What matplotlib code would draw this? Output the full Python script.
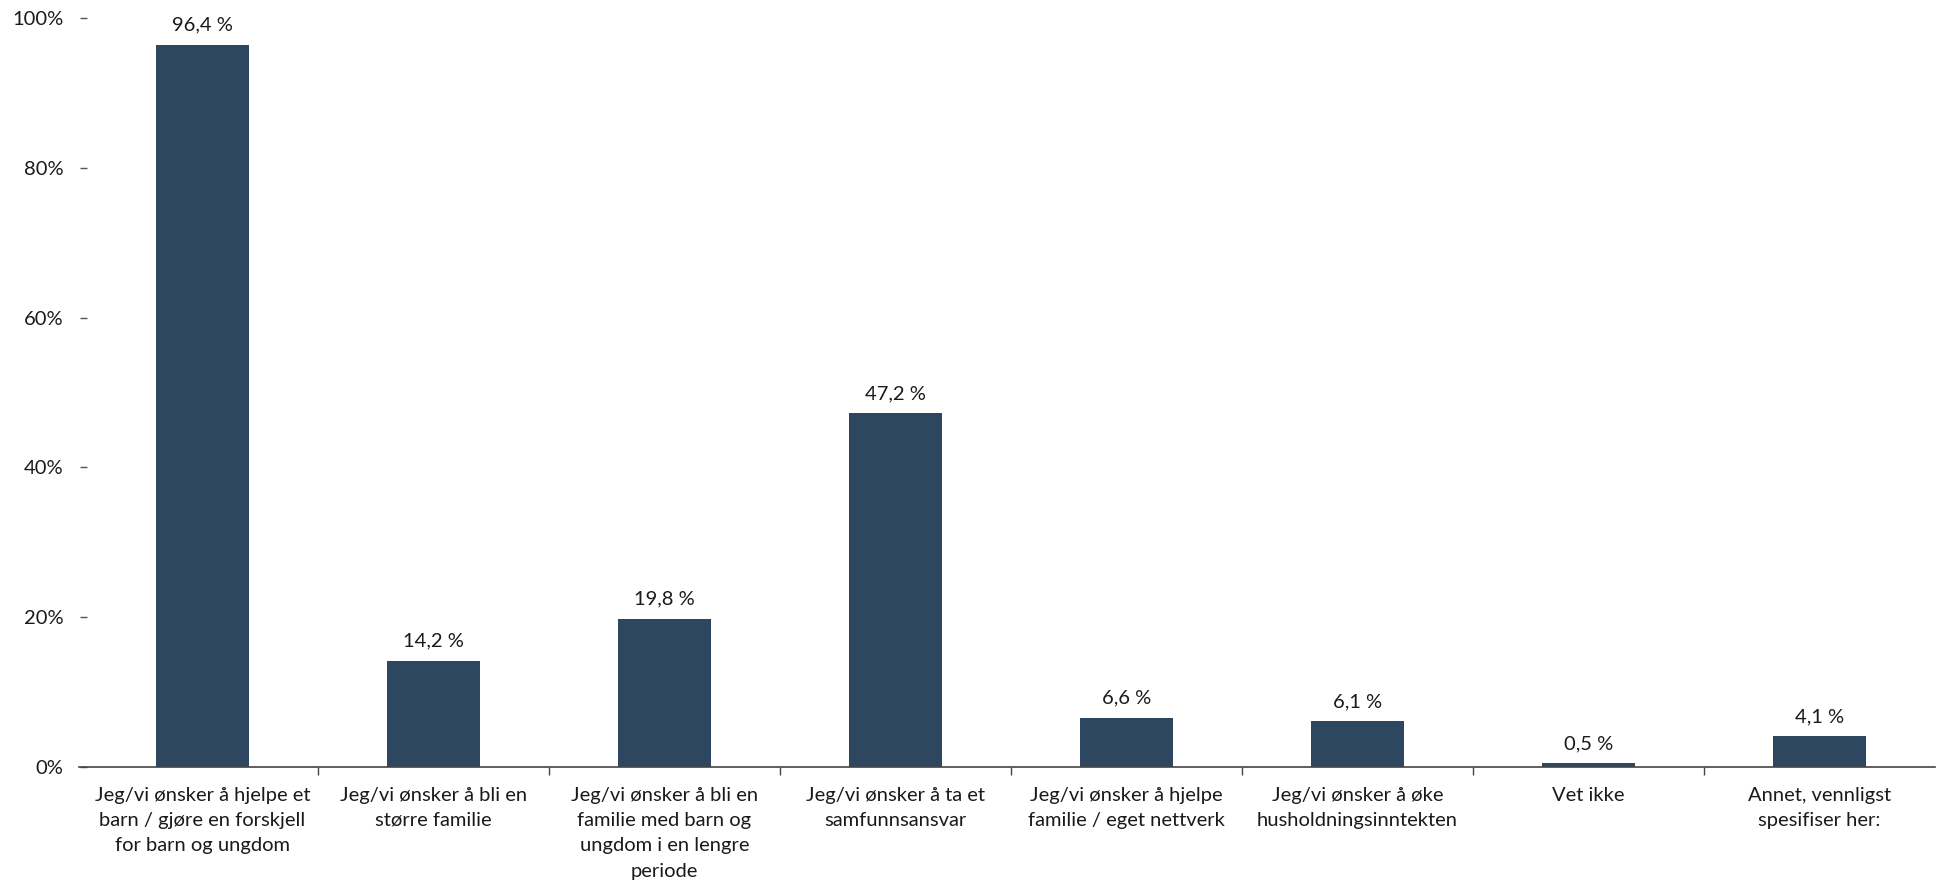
import numpy as np
import matplotlib.pyplot as plt
from matplotlib.ticker import FixedLocator

# Data
categories = [
    "Jeg/vi ønsker å hjelpe et\nbarn / gjøre en forskjell\nfor barn og ungdom",
    "Jeg/vi ønsker å bli en\nstørre familie",
    "Jeg/vi ønsker å bli en\nfamilie med barn og\nungdom i en lengre\nperiode",
    "Jeg/vi ønsker å ta et\nsamfunnsansvar",
    "Jeg/vi ønsker å hjelpe\nfamilie / eget nettverk",
    "Jeg/vi ønsker å øke\nhusholdningsinntekten",
    "Vet ikke",
    "Annet, vennligst\nspesifiser her:",
]
values = [96.4, 14.2, 19.8, 47.2, 6.6, 6.1, 0.5, 4.1]
y_ticks = [0, 20, 40, 60, 80, 100]
y_tick_labels = ["0%", "20%", "40%", "60%", "80%", "100%"]

BAR_COLOR = "#2D4760"
TEXT_COLOR = "#1a1a1a"

plt.rcParams['font.family'] = ['Lato', 'DejaVu Sans']

fig = plt.figure(figsize=(19.43, 8.92), dpi=100)
ax = fig.add_axes([0.0448, 0.140, 0.951, 0.840])

x = np.arange(len(values))
ax.bar(x, values, width=0.4, color=BAR_COLOR, zorder=2)

# Value labels
for xi, v in zip(x, values):
    ax.annotate(
        f"{v:.1f} %".replace(".", ","),
        (xi, v),
        xytext=(0, 8),
        textcoords="offset points",
        ha="center",
        va="bottom",
        fontsize=14.5,
        color=TEXT_COLOR,
    )

ax.set_xlim(-0.5, len(values) - 0.5)
ax.set_ylim(0, 100)

# y axis
ax.set_yticks(y_ticks)
ax.set_yticklabels(y_tick_labels, fontsize=14.5, color=TEXT_COLOR)
ax.tick_params(axis="y", length=5, width=1, color="#555555", pad=12)

# x axis: labels at centers, tick marks at boundaries
ax.set_xticks(x)
ax.set_xticklabels(categories, fontsize=14.5, color=TEXT_COLOR, linespacing=1.6)
ax.tick_params(axis="x", which="major", length=0, pad=14)
ax.xaxis.set_minor_locator(FixedLocator(np.arange(0.5, len(values) - 1, 1.0)))
ax.tick_params(axis="x", which="minor", length=6, width=1, color="#444444")

for side in ["top", "right", "left"]:
    ax.spines[side].set_visible(False)
ax.spines["bottom"].set_color("#444444")
ax.spines["bottom"].set_linewidth(1.2)
ax.spines["bottom"].set_bounds(-0.535, len(values) - 0.5)

plt.savefig("out.png", dpi=100)
plt.close()
